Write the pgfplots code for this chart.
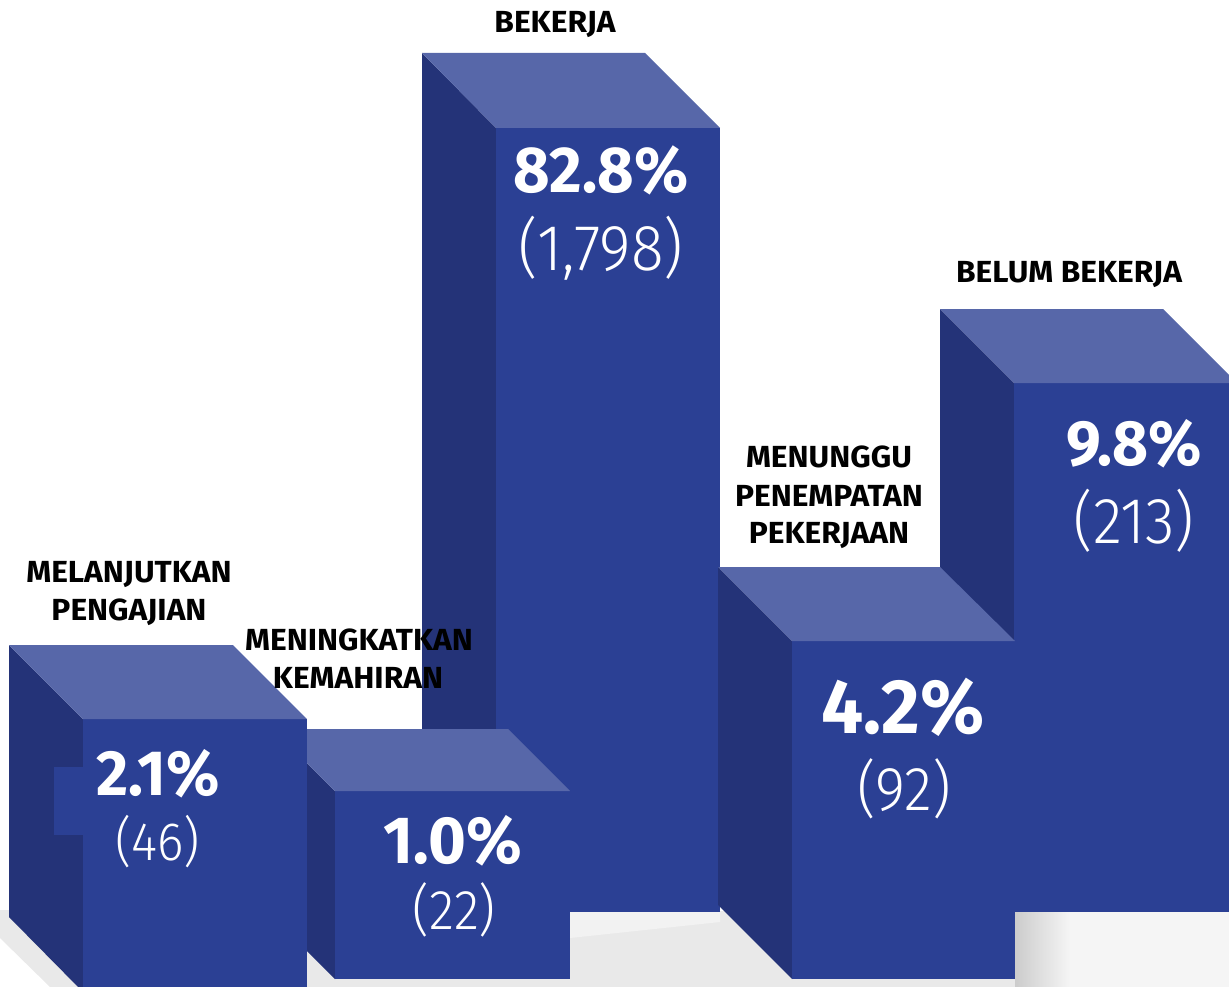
\documentclass[border=0pt]{standalone}
\usepackage{fontspec}
\usepackage{pgfplots}
\pgfplotsset{compat=1.18}
\setmainfont{Fira Sans}
\newfontfamily\lblfont{Fira Sans}[FakeStretch=1.04]
\newfontfamily\pctfont{Fira Sans}[FakeStretch=0.97]
\newfontfamily\cntfont{Fira Sans Light}[FakeStretch=0.93]
\definecolor{front}{HTML}{2B4094}
\definecolor{side}{HTML}{243378}
\definecolor{topf}{HTML}{5767A9}
\definecolor{floorg}{HTML}{E9E9E9}
\newcommand{\lbl}[1]{{\lblfont\bfseries\fontsize{30.5}{38}\selectfont #1}}
\newcommand{\pct}[2]{{\pctfont\bfseries\fontsize{#1}{#1}\selectfont\color{white}#2}}
\newcommand{\cnt}[2]{{\cntfont\fontsize{#1}{#1}\selectfont\color{white}#2}}
\begin{document}
\begin{tikzpicture}
\begin{axis}[
  at={(0,0)}, anchor=south west,
  width=1229pt, height=987pt, scale only axis,
  xmin=0, xmax=1229, ymin=0, ymax=987, y dir=reverse,
  axis lines=none, no markers, clip=true,
]
% floor
\addplot[fill=floorg, draw=none] coordinates {(0,910) (1229,912) (1229,987) (50,987) (0,938)} -- cycle;
\addplot[fill=white!95!black, draw=none] coordinates {(570,912) (720,912) (720,922) (570,938)} -- cycle;
\addplot[left color=black!20, right color=white!96!black, draw=none] coordinates {(1015,912) (1070,912) (1070,987) (1015,987)} -- cycle;
\addplot[fill=white!96!black, draw=none] coordinates {(1070,912) (1229,912) (1229,987) (1070,987)} -- cycle;
% box 3 BEKERJA
\addplot[fill=side, draw=none] coordinates {(422,53) (496,128) (496,912) (422,838)} -- cycle;
\addplot[fill=front, draw=none] coordinates {(496,128) (720,128) (720,912) (496,912)} -- cycle;
\addplot[fill=topf, draw=none] coordinates {(422,53) (645,53) (720,128) (496,128)} -- cycle;
% box 5 BELUM BEKERJA
\addplot[fill=side, draw=none] coordinates {(940,309) (1014,383) (1014,912) (940,838)} -- cycle;
\addplot[fill=front, draw=none] coordinates {(1014,383) (1237,383) (1237,912) (1014,912)} -- cycle;
\addplot[fill=topf, draw=none] coordinates {(940,309) (1163,309) (1237,383) (1014,383)} -- cycle;
% box 2 MENINGKATKAN KEMAHIRAN
\addplot[fill=side, draw=none] coordinates {(273,729) (335,791) (335,979) (273,917)} -- cycle;
\addplot[fill=front, draw=none] coordinates {(335,791) (570,791) (570,979) (335,979)} -- cycle;
\addplot[fill=topf, draw=none] coordinates {(273,729) (508,729) (570,791) (335,791)} -- cycle;
% box 1 MELANJUTKAN PENGAJIAN
\addplot[fill=side, draw=none] coordinates {(9,645) (83,719) (83,992) (9,917)} -- cycle;
\addplot[fill=front, draw=none] coordinates {(83,719) (307,719) (307,992) (83,992)} -- cycle;
\addplot[fill=topf, draw=none] coordinates {(9,645) (233,645) (307,719) (83,719)} -- cycle;
\addplot[fill=front, draw=none] coordinates {(54,767) (84,767) (84,835) (54,835)} -- cycle;
% box 4 MENUNGGU PENEMPATAN PEKERJAAN
\addplot[fill=side, draw=none] coordinates {(718,567) (792,641) (792,979) (718,905)} -- cycle;
\addplot[fill=front, draw=none] coordinates {(792,641) (1015,641) (1015,979) (792,979)} -- cycle;
\addplot[fill=topf, draw=none] coordinates {(718,567) (940,567) (1015,641) (792,641)} -- cycle;

% category labels
\node[anchor=base, inner sep=0pt] at (555,33) {\lbl{BEKERJA}};
\node[anchor=base, inner sep=0pt] at (129,582) {\lbl{MELANJUTKAN}};
\node[anchor=base, inner sep=0pt] at (129,620) {\lbl{PENGAJIAN}};
\node[anchor=base, inner sep=0pt] at (359,650) {\lbl{MENINGKATKAN}};
\node[anchor=base, inner sep=0pt] at (358,688) {\lbl{KEMAHIRAN}};
\node[anchor=base, inner sep=0pt] at (829,467) {\lbl{MENUNGGU}};
\node[anchor=base, inner sep=0pt] at (829,506) {\lbl{PENEMPATAN}};
\node[anchor=base, inner sep=0pt] at (829,543) {\lbl{PEKERJAAN}};
\node[anchor=base, inner sep=0pt] at (1069,283) {\lbl{BELUM BEKERJA}};

% values
\node[anchor=base, inner sep=0pt] at (601,193) {\pct{65}{82.8\%}};
\node[anchor=base, inner sep=0pt] at (601,270) {\cnt{65}{(1,798)}};
\node[anchor=base, inner sep=0pt] at (158,795) {\pct{64}{2.1\%}};
\node[anchor=base, inner sep=0pt] at (158,860) {\cnt{54}{(46)}};
\node[anchor=base, inner sep=0pt] at (453,863) {\pct{66.8}{1.0\%}};
\node[anchor=base, inner sep=0pt] at (454,929) {\cnt{56}{(22)}};
\node[anchor=base, inner sep=0pt] at (903,733) {\pct{77}{4.2\%}};
\node[anchor=base, inner sep=0pt] at (904,810) {\cnt{62}{(92)}};
\node[anchor=base, inner sep=0pt] at (1134,465) {\pct{64}{9.8\%}};
\node[anchor=base, inner sep=0pt] at (1134,543) {\cnt{65}{(213)}};
\end{axis}
\pgfresetboundingbox
\useasboundingbox (0,0) rectangle (1229pt,987pt);
\end{tikzpicture}
\end{document}
